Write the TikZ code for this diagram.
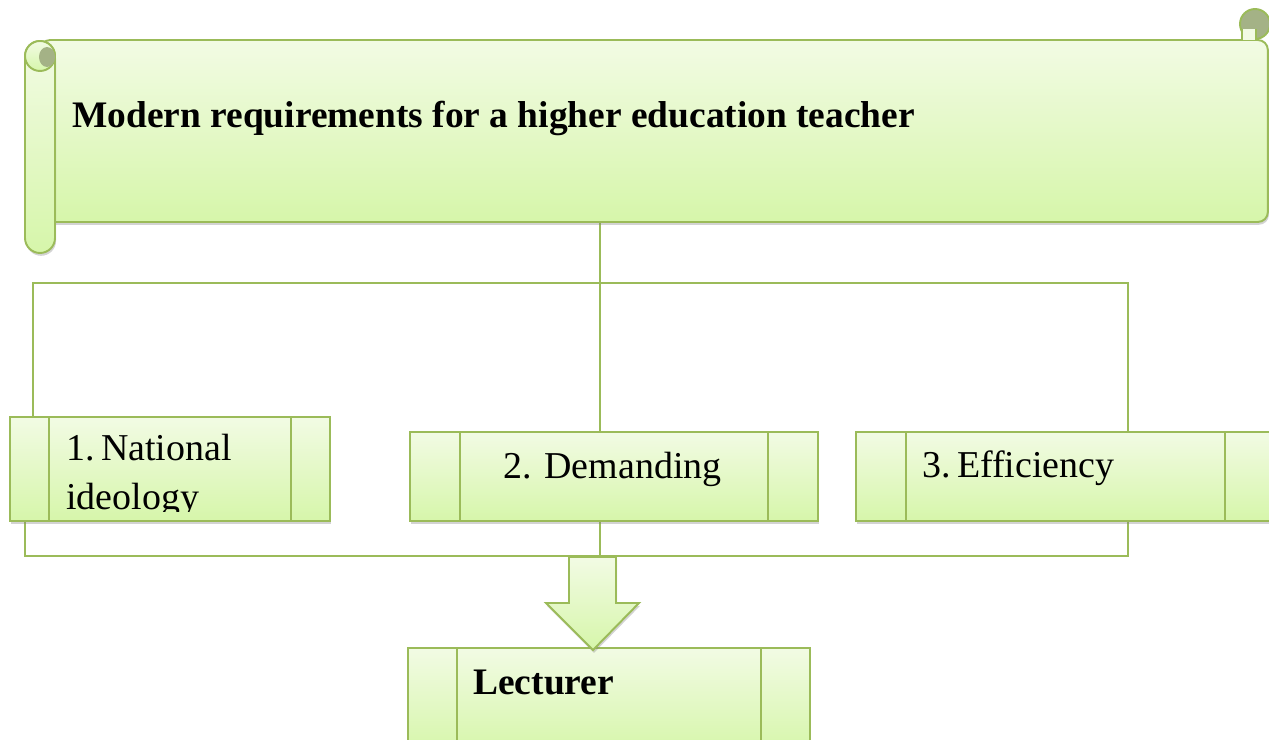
\documentclass[tikz,border=0pt]{standalone}
\usepackage{fontspec}
\setmainfont{Liberation Serif}
\usetikzlibrary{shapes,backgrounds,shadows}

\definecolor{leafline}{RGB}{155,187,89}
\definecolor{leaftop}{RGB}{242,251,228}
\definecolor{leafbot}{RGB}{214,246,170}
\definecolor{leafcurl}{RGB}{164,178,134}

\tikzset{
  leaf/.style={draw=leafline, line width=1.1pt, top color=leaftop, bottom color=leafbot},
  softshadow/.style={drop shadow={opacity=0.35, shadow xshift=0.6pt, shadow yshift=-1.6pt}},
  pbox/.style 2 args={leaf, softshadow, rectangle, inner sep=0pt, minimum width=#1, minimum height=#2},
  bars/.style={path picture={
      \draw[leafline, line width=1.1pt]
        ([xshift=#1]path picture bounding box.north west) -- ([xshift=#1]path picture bounding box.south west)
        ([xshift=-#1]path picture bounding box.north east) -- ([xshift=-#1]path picture bounding box.south east);}},
  wire/.style={draw=leafline, line width=0.9pt},
  txt/.style={anchor=base west, inner sep=0pt, font=\fontsize{21.6}{27.5}\selectfont},
  btxt/.style={anchor=base west, inner sep=0pt, font=\bfseries\fontsize{21.3}{25}\selectfont}
}

\begin{document}
\begin{tikzpicture}[x=0.02cm, y=-0.02cm]
\useasboundingbox (0,0) rectangle (1269,740);
\clip (0,0) rectangle (1269,740);

\node[leaf, softshadow, rectangle, rounded corners=0.2cm, minimum width=24.56cm, minimum height=3.64cm] (title) at (654,131) {};
\draw[leaf, softshadow, rounded corners=0.3cm] (25,41) rectangle (55,253);
\draw[leaf] (40,56) circle (0.3cm);
\fill[leafcurl] (47,57) ellipse [x radius=0.16cm, y radius=0.2cm];
\draw[leafline, line width=1.1pt, fill=leafcurl] (1255,24) circle (0.3cm);
\fill[leaftop] (1242,29) rectangle (1256,40);
\draw[leafline, line width=1.1pt] (1242,40) -- (1242,29) (1256,29) -- (1256,40);
\node[btxt] (heading) at (72,128) {Modern requirements for a higher education teacher};

\node[pbox={6.4cm}{2.08cm}, bars=0.78cm] (b1) at (170,469) {};
\node[pbox={8.16cm}{1.78cm}, bars=1cm] (b2) at (614,476.5) {};
\node[pbox={8.38cm}{1.78cm}, bars=1cm] (b3) at (1065.5,476.5) {};
\node[pbox={8.04cm}{2.08cm}, bars=0.98cm] (lect) at (609,700) {};

\begin{scope}
  \clip (49,417) rectangle (291,511);
  \node[txt, anchor=north west, align=left] (t1) at (66,434) {1.\,National\\ideology};
\end{scope}
\node[txt] (t2) at (503,478) {2. Demanding};
\node[txt] (t3) at (922,477) {3.\,Efficiency};
\node[btxt] (t4) at (473,694) {Lecturer};

\draw[leaf, softshadow] (569,557) -- (616,557) -- (616,603) -- (639,603) -- (593,650) -- (546,603) -- (569,603) -- cycle;

\coordinate (hub) at (600,283);
\coordinate (jl) at (33,283);
\coordinate (jr) at (1128,283);
\coordinate (bl) at (25,556);
\coordinate (bm) at (600,556);
\coordinate (br) at (1128,556);

\begin{scope}[on background layer]
  \draw[wire] (title.south -| hub) -- (hub);
  \draw[wire] (jl |- b1.north) -- (jl) -- (jr) -- (jr |- b3.north);
  \draw[wire] (hub) -- (hub |- b2.north);
  \draw[wire] (bl |- b1.south) -- (bl) -- (br) -- (br |- b3.south);
  \draw[wire] (bm |- b2.south) -- (bm);
\end{scope}
\end{tikzpicture}
\end{document}
